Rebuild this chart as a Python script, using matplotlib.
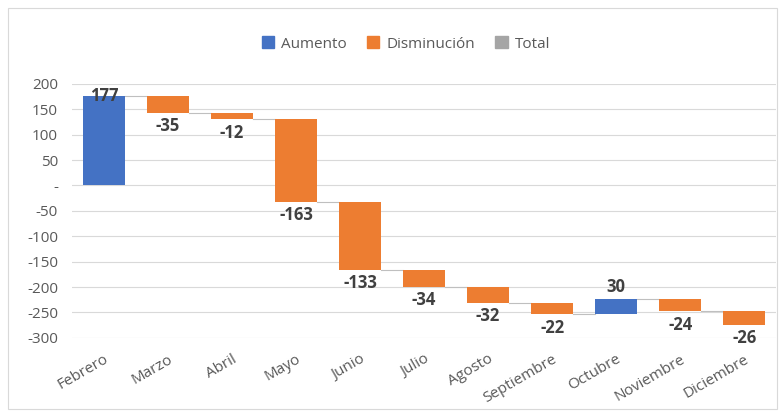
import numpy as np
import matplotlib.pyplot as plt
from matplotlib.patches import Patch, Rectangle

months = ['Febrero', 'Marzo', 'Abril', 'Mayo', 'Junio', 'Julio', 'Agosto',
          'Septiembre', 'Octubre', 'Noviembre', 'Diciembre']
changes = [177, -35, -12, -163, -133, -34, -32, -22, 30, -24, -26]
yticks = [200, 150, 100, 50, 0, -50, -100, -150, -200, -250, -300]

blue = '#4472C4'
orange = '#ED7D31'
grey = '#A5A5A5'
txt = '#595959'

plt.rcParams['font.family'] = ['Open Sans', 'DejaVu Sans']

ends = np.cumsum(changes)
starts = ends - np.array(changes)
x = np.arange(len(months))
width = 0.65
ymin, ymax = -300, 200

fig = plt.figure(figsize=(7.81, 4.11), dpi=100)
fig.patches.append(Rectangle((0.01, 0.005), 0.985, 0.975, transform=fig.transFigure,
                             fill=False, edgecolor='#D9D9D9', linewidth=0.8))
ax = fig.add_axes([0.092, 0.178, 0.902, 0.618])

colors = [blue if c > 0 else orange for c in changes]
ax.bar(x, changes, bottom=starts, width=width, color=colors, zorder=3)

# connector lines between bars
for i in range(len(months) - 1):
    ax.plot([x[i] + width / 2, x[i + 1] - width / 2], [ends[i], ends[i]],
            color='#BFBFBF', linewidth=0.8, zorder=2)

# data labels (pushed down if they'd leave the plot area, like excel does)
for i, c in enumerate(changes):
    if c > 0:
        if ends[i] + 25 > ymax:
            ax.annotate(f'{c}', (x[i], ends[i]), xytext=(0, 0), textcoords='offset points',
                        ha='center', va='center', fontsize=12, fontweight='bold',
                        color='#404040', zorder=4)
        else:
            ax.annotate(f'{c}', (x[i], ends[i]), xytext=(0, 2), textcoords='offset points',
                        ha='center', va='bottom', fontsize=12, fontweight='bold', color='#404040')
    else:
        ax.annotate(f'{c}', (x[i], ends[i]), xytext=(0, -3), textcoords='offset points',
                    ha='center', va='top', fontsize=12, fontweight='bold', color='#404040')

ax.set_xlim(-0.5, len(months) - 0.5)
ax.set_ylim(ymin, ymax)
ax.set_yticks(yticks)
ax.set_yticklabels(['-' if v == 0 else str(v) for v in yticks])
ax.set_xticks(x)
ax.set_xticklabels(months, rotation=30, ha='right', rotation_mode='anchor')
ax.tick_params(axis='both', length=0, labelsize=11, colors=txt)
ax.tick_params(axis='y', pad=10)
ax.tick_params(axis='x', pad=10)
ax.grid(axis='y', color='#D9D9D9', linewidth=0.8, zorder=0)
for s in ax.spines.values():
    s.set_visible(False)

handles = [Patch(color=blue, label='Aumento'), Patch(color=orange, label='Disminución'),
           Patch(color=grey, label='Total')]
fig.legend(handles=handles, loc='center', bbox_to_anchor=(0.52, 0.893), ncol=3,
           frameon=False, fontsize=11, handlelength=0.8, handleheight=0.8,
           handletextpad=0.5, columnspacing=1.3, labelcolor=txt)

fig.savefig('out.png', dpi=100)
